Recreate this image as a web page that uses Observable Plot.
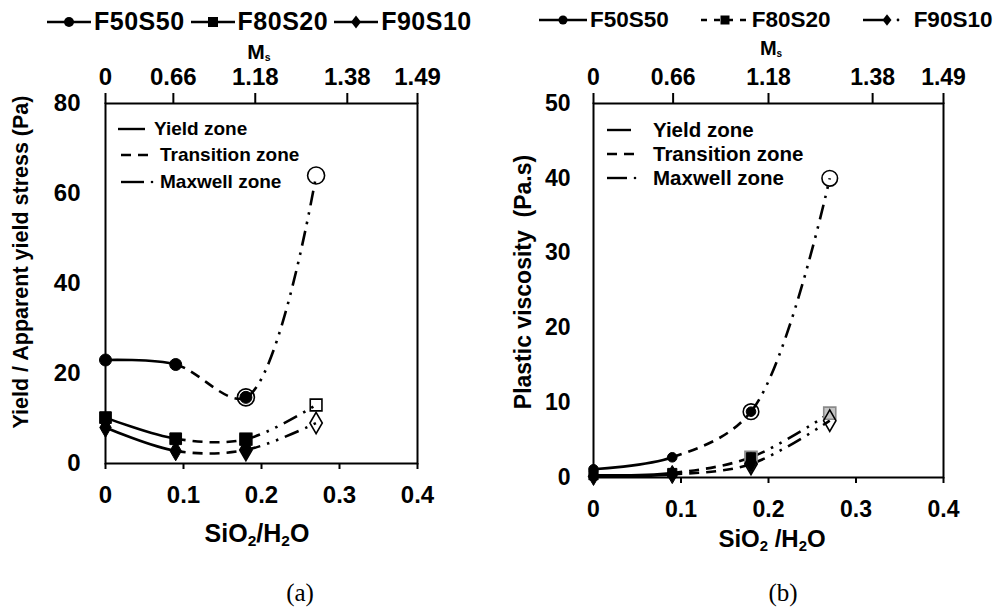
<!DOCTYPE html>
<html>
<head>
<meta charset="utf-8">
<script src="https://cdn.jsdelivr.net/npm/d3@7"></script>
<script src="https://cdn.jsdelivr.net/npm/@observablehq/plot@0.6"></script>
<style>
  body { margin: 0; background: #fff; }
  #fig { position: relative; width: 995px; height: 611px; overflow: hidden; background: #fff;
         font-family: "Liberation Sans", Arial, sans-serif; font-weight: bold; color: #000; }
  .abs { position: absolute; white-space: nowrap; line-height: 1; }
  .ctr { transform: translate(-50%, -50%); }
  .rot { transform: translate(-50%, -50%) rotate(-90deg); }
  .panel { position: absolute; top: 0; }
  .legend { display: flex; align-items: center; width: max-content; }
  .legend > * { flex-shrink: 0; }
  .legend svg { display: block; }
  .cap { font-family: "Liberation Serif", "Times New Roman", serif; font-weight: normal; font-size: 25px; }
  sub { font-size: 0.62em; vertical-align: -0.28em; line-height: 0; }
  .ms sub { font-size: 0.5em; vertical-align: -0.2em; }
  .zone { display: flex; align-items: center; width: max-content; }
</style>
</head>
<body>
<div id="fig"></div>
<script>
// SiO2/H2O ratio of each mix step
const ratio = [0, 0.09, 0.18, 0.27];

// Yield / apparent yield stress (Pa)
const yieldF50S50 = [23, 22, 14.7, 64];
const yieldF80S20 = [10.2, 5.5, 5.4, 13];
const yieldF90S10 = [8, 2.8, 3, 9];

// Plastic viscosity (Pa.s)
const viscF50S50 = [1.1, 2.7, 8.8, 40];
const viscF80S20 = [0.3, 0.6, 2.7, 8.6];
const viscF90S10 = [0.15, 0.4, 1.8, 7.6];

const seriesNames = ["F50S50", "F80S20", "F90S10"];
const seriesSymbols = ["circle", "square", "diamond"];

// Ms (silicate modulus) labels for the top axis, and where they sit on the SiO2/H2O scale
const msLabels = ["0", "0.66", "1.18", "1.38", "1.49"];
const msAtA = [0, 0.087, 0.192, 0.31, 0.4];
const msAtB = [0, 0.091, 0.2, 0.319, 0.4];

const xTicks = [0, 0.1, 0.2, 0.3, 0.4];
const yTicksA = [0, 20, 40, 60, 80];
const yTicksB = [0, 10, 20, 30, 40, 50];

const zoneNames = ["Yield zone", "Transition zone", "Maxwell zone"];
const zoneDash = [null, "10,7", "15,7,2.5,7,2.5,7"];

// Catmull-Rom through all points of a series, stroking only segment k
function zoneCurve(k) {
  return function (context) {
    let pts = [];
    return {
      areaStart() {}, areaEnd() {},
      lineStart() { pts = []; },
      point(x, y) { pts.push([+x, +y]); },
      lineEnd() {
        let seg = 0, cx = 0, cy = 0;
        const proxy = {
          moveTo(x, y) { cx = x; cy = y; },
          lineTo(x, y) {
            if (seg === k) { context.moveTo(cx, cy); context.lineTo(x, y); }
            seg++; cx = x; cy = y;
          },
          bezierCurveTo(a, b, c, d, x, y) {
            if (seg === k) { context.moveTo(cx, cy); context.bezierCurveTo(a, b, c, d, x, y); }
            seg++; cx = x; cy = y;
          },
          closePath() {}
        };
        const c = d3.curveCatmullRom.alpha(0.5)(proxy);
        c.lineStart();
        for (const [x, y] of pts) c.point(x, y);
        c.lineEnd();
      }
    };
  };
}

function rowsFor(valueSets) {
  return seriesNames.flatMap((name, s) =>
    ratio.map((x, i) => ({series: name, s, i, x, y: valueSets[s][i]})));
}

function panel(opts) {
  const rows = rowsFor(opts.values);
  const marks = [
    Plot.axisY(opts.yTicks, {tickSize: 0, tickPadding: opts.yPad, label: null}),
    Plot.axisX(xTicks, {tickSize: 6, strokeWidth: 2, tickPadding: opts.xPad, label: null,
                        tickFormat: d => d === 0 ? "0" : String(d)}),
    Plot.axisX(opts.msAt, {anchor: "top", tickSize: 11, strokeWidth: 2, tickPadding: opts.topPad, label: null,
                           tickFormat: d => msLabels[opts.msAt.indexOf(d)]})
  ];
  zoneDash.forEach((dash, k) => {
    marks.push(Plot.line(rows, {x: "x", y: "y", z: "series", curve: zoneCurve(k),
      stroke: "black", strokeWidth: 2.6, strokeDasharray: dash, strokeLinecap: "butt"}));
  });
  seriesNames.forEach((name, s) => {
    const sym = seriesSymbols[s];
    const own = rows.filter(d => d.s === s);
    const openStyle = opts.openStyle(s);
    marks.push(Plot.dot(own.filter(d => d.i >= 2), {x: "x", y: "y", symbol: sym,
      r: opts.openR[s], fill: openStyle.fill, stroke: openStyle.stroke, strokeWidth: 1.6}));
    marks.push(Plot.dot(own.filter(d => d.i <= 2), {x: "x", y: "y", symbol: sym,
      r: opts.fillR[s], fill: "black", stroke: "black", strokeWidth: 1}));
  });
  marks.push(Plot.frame({stroke: "black", strokeWidth: 2}));
  return Plot.plot({
    width: opts.width, height: 545,
    marginLeft: opts.ml, marginRight: opts.mr, marginTop: 103, marginBottom: opts.mb,
    x: {domain: [0, 0.4]},
    y: {domain: opts.yDomain},
    style: {fontFamily: '"Liberation Sans", Arial, sans-serif', fontSize: opts.fontSize,
            fontWeight: "bold", color: "black", background: "transparent", overflow: "visible"},
    marks
  });
}

const fig = document.getElementById("fig");

function place(html, cls, style) {
  const el = document.createElement("div");
  el.className = "abs " + cls;
  el.innerHTML = html;
  Object.assign(el.style, style);
  fig.appendChild(el);
  return el;
}

const pa = panel({
  values: [yieldF50S50, yieldF80S20, yieldF90S10], yDomain: [0, 80], yTicks: yTicksA,
  width: 497, ml: 105, mr: 80, mb: 82, fontSize: "24px", yPad: 25, xPad: 16, topPad: 8,
  msAt: msAtA, fillR: [6, 6.6, 6], openR: [8.5, 6.6, 6.5],
  openStyle: () => ({fill: "none", stroke: "black"})
});
const pb = panel({
  values: [viscF50S50, viscF80S20, viscF90S10], yDomain: [0, 50], yTicks: yTicksB,
  width: 498, ml: 96, mr: 52, mb: 68, fontSize: "23px", yPad: 23, xPad: 17, topPad: 8,
  msAt: msAtB, fillR: [4.8, 5.2, 5.5], openR: [7.8, 6.8, 6.5],
  openStyle: s => s === 1 ? {fill: "#c4c4c4", stroke: "#8a8a8a"} : {fill: "none", stroke: "black"}
});
const wa = document.createElement("div"); wa.className = "panel"; wa.style.left = "0px"; wa.appendChild(pa);
const wb = document.createElement("div"); wb.className = "panel"; wb.style.left = "497px"; wb.appendChild(pb);
fig.appendChild(wa); fig.appendChild(wb);

// small line + symbol sample for the series legends
function sample(w, dash, sym, size) {
  const c = w / 2, h = 22, m = h / 2;
  let shape;
  if (sym === "circle") shape = `<circle cx="${c}" cy="${m}" r="${size}" fill="black"/>`;
  else if (sym === "square") shape = `<rect x="${c - size}" y="${m - size}" width="${2 * size}" height="${2 * size}" fill="black"/>`;
  else shape = `<path d="M${c},${m - size * 1.3}L${c + size},${m}L${c},${m + size * 1.3}L${c - size},${m}Z" fill="black"/>`;
  const line = dash === "dot"
    ? `<line x1="0" y1="${m}" x2="${c}" y2="${m}" stroke="black" stroke-width="2.5"/><circle cx="${c + 11}" cy="${m}" r="1.4" fill="black"/>`
    : `<line x1="0" y1="${m}" x2="${w}" y2="${m}" stroke="black" stroke-width="2.5" ${dash ? `stroke-dasharray="${dash}"` : ""}/>`;
  return `<svg width="${w}" height="${h}">${line}${shape}</svg>`;
}

// series legend, panel (a)
place(seriesNames.map((n, s) =>
  `${sample(44, null, seriesSymbols[s], 5)}<span style="margin:0 ${s < 2 ? 6 : 0}px 0 3px">${n}</span>`).join(""),
  "legend", {left: "47px", top: "9px", fontSize: "25px", letterSpacing: "0.5px"});
// series legend, panel (b)
const legendDashB = [null, "6,7", "dot"];
place(seriesNames.map((n, s) =>
  `${sample(48, legendDashB[s], seriesSymbols[s], 4.5)}<span style="margin:0 ${s < 2 ? 32 : 0}px 0 3px">${n}</span>`).join(""),
  "legend", {left: "539px", top: "9px", fontSize: "22.5px"});

// Ms titles of the top axes
place("M<sub>s</sub>", "ctr ms", {left: "259px", top: "51px", fontSize: "21px"});
place("M<sub>s</sub>", "ctr ms", {left: "771px", top: "48px", fontSize: "20px"});

// y-axis titles
place("Yield / Apparent yield stress (Pa)", "rot", {left: "22px", top: "262px", fontSize: "21.5px"});
place("Plastic viscosity&nbsp; (Pa.s)", "rot", {left: "523px", top: "282px", fontSize: "23px"});

// x-axis titles
place("SiO<sub>2</sub>/H<sub>2</sub>O", "ctr", {left: "257px", top: "533px", fontSize: "25px"});
place("SiO<sub>2</sub> /H<sub>2</sub>O", "ctr", {left: "772px", top: "539px", fontSize: "24px"});

// zone legends inside the frames
function zoneSample(w, k) {
  const dash = ["", "10,7", ""][k];
  const body = k === 2
    ? `<line x1="0" y1="6" x2="${w - 10}" y2="6" stroke="black" stroke-width="2.4"/><circle cx="${w - 2}" cy="6" r="1.3" fill="black"/>`
    : `<line x1="0" y1="6" x2="${w}" y2="6" stroke="black" stroke-width="2.4" ${dash ? `stroke-dasharray="${dash}"` : ""}/>`;
  return `<svg width="${w}" height="12" style="display:block">${body}</svg>`;
}
const zoneTopA = [130, 156, 183];
const zoneTopB = [132, 156, 180];
zoneNames.forEach((name, k) => {
  place(`${zoneSample(k === 0 ? 27 : 33, k)}<span style="margin-left:${k === 0 ? 9 : 6}px">${name}</span>`,
    "zone", {left: k === 0 ? "118px" : "121px", top: (zoneTopA[k] - 11) + "px", fontSize: "19px"});
  place(`${zoneSample(k === 0 ? 24 : 30, k)}<span style="margin-left:${k === 0 ? 22 : 16}px">${name}</span>`,
    "zone", {left: "607px", top: (zoneTopB[k] - 12) + "px", fontSize: "20.5px"});
});

// panel captions
place("(a)", "ctr cap", {left: "300px", top: "592px"});
place("(b)", "ctr cap", {left: "783px", top: "592px"});
</script>
</body>
</html>
